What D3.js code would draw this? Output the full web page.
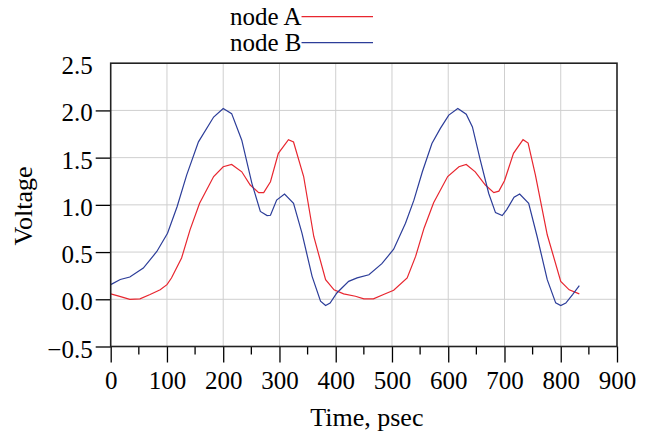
<!DOCTYPE html>
<meta charset="utf-8">
<style>
 body { margin: 0; background: #fff; }
 text {
   font-family: "Liberation Serif", "Times New Roman", serif;
   fill: #000;
 }
 .grid line {
   stroke: #cfcfcf;
   stroke-width: 1px;
 }
 .series {
   fill: none;
   stroke-width: 1.2px;
 }
</style>
<svg width="649" height="432"></svg>
<script src="https://d3js.org/d3.v7.min.js"></script>
<script>

 // time in psec, voltage in volts
 var timeA = [0, 16, 34, 52, 70, 88, 100, 108, 126, 141, 158, 183, 200, 215, 233, 248, 263, 272, 284, 298, 316, 325, 343, 361, 382, 397, 414, 435, 450, 467, 485, 503, 527, 542, 557, 574, 599, 619, 632, 648, 666, 681, 690, 700, 716, 733, 742, 755, 776, 800, 815, 833];
 var voltA = [0.057, 0.03, 0.0, 0.005, 0.05, 0.10, 0.155, 0.225, 0.437, 0.735, 1.017, 1.30, 1.403, 1.428, 1.35, 1.21, 1.13, 1.13, 1.245, 1.545, 1.69, 1.665, 1.30, 0.665, 0.208, 0.10, 0.057, 0.032, 0.004, 0.004, 0.05, 0.095, 0.226, 0.454, 0.753, 1.023, 1.30, 1.403, 1.428, 1.35, 1.21, 1.13, 1.145, 1.255, 1.545, 1.69, 1.655, 1.315, 0.683, 0.19, 0.10, 0.057];

 var timeB = [0, 17, 34, 58, 82, 101, 118, 135, 156, 183, 200, 215, 233, 251, 266, 278, 284, 295, 309, 325, 340, 358, 373, 382, 390, 402, 423, 438, 459, 482, 503, 524, 539, 554, 571, 586, 601, 617, 632, 643, 657, 672, 684, 696, 704, 717, 727, 743, 758, 776, 791, 800, 809, 821, 833];
 var voltB = [0.155, 0.21, 0.236, 0.33, 0.506, 0.70, 0.98, 1.315, 1.667, 1.93, 2.02, 1.966, 1.685, 1.228, 0.93, 0.886, 0.89, 1.05, 1.115, 1.017, 0.70, 0.243, -0.02, -0.066, -0.04, 0.067, 0.19, 0.226, 0.26, 0.377, 0.53, 0.806, 1.05, 1.35, 1.65, 1.81, 1.95, 2.02, 1.96, 1.825, 1.474, 1.12, 0.918, 0.886, 0.95, 1.08, 1.115, 1.017, 0.665, 0.208, -0.038, -0.066, -0.04, 0.05, 0.145];

 var seriesNames = ["node A", "node B"];
 var seriesColors = ["#e8262f", "#2c3d99"];
 var xTicks = [0, 100, 200, 300, 400, 500, 600, 700, 800, 900];
 var xMinorTicks = [50, 150, 250, 350, 450, 550, 650, 750, 850];
 var yTicks = [-0.5, 0, 0.5, 1.0, 1.5, 2.0, 2.5];

 var svg = d3.select("svg");

 var plotL = 110.7, plotR = 617, plotT = 63.2, plotB = 346.5;

 var x = d3.scaleLinear().domain([0, 900]).range([plotL, plotR]);
 var y = d3.scaleLinear().domain([-0.5, 2.5]).range([plotB, plotT]);

 // grid
 var grid = svg.append("g").attr("class", "grid");
 grid.selectAll("line.v")
     .data(xTicks.slice(1, -1))
     .enter().append("line")
     .attr("class", "v")
     .attr("x1", function(d) { return x(d); })
     .attr("x2", function(d) { return x(d); })
     .attr("y1", plotT)
     .attr("y2", plotB);
 grid.selectAll("line.h")
     .data(yTicks.slice(1, -1))
     .enter().append("line")
     .attr("class", "h")
     .attr("x1", plotL)
     .attr("x2", plotR)
     .attr("y1", function(d) { return y(d); })
     .attr("y2", function(d) { return y(d); });

 // series
 var line = d3.line()
              .x(function(d) { return x(d[0]); })
              .y(function(d) { return y(d[1]); });

 var series = [d3.zip(timeA, voltA), d3.zip(timeB, voltB)];

 svg.append("g")
    .selectAll("path")
    .data(series)
    .enter().append("path")
    .attr("class", "series")
    .attr("stroke", function(d, i) { return seriesColors[i]; })
    .attr("d", line);

 // axes
 var xAxis = svg.append("g")
                .attr("transform", "translate(0," + plotB + ")")
                .call(d3.axisBottom(x).tickValues(xTicks).tickSize(16).tickPadding(8).tickFormat(d3.format("d")));
 xAxis.selectAll(".tick line").attr("stroke", "#000").attr("stroke-width", 1.3);
 xAxis.selectAll(".tick text").attr("font-size", 25).attr("font-family", "Liberation Serif").attr("dy", "0.72em");
 xAxis.select(".domain").remove();

 svg.append("g")
    .selectAll("line")
    .data(xMinorTicks)
    .enter().append("line")
    .attr("x1", function(d) { return x(d); })
    .attr("x2", function(d) { return x(d); })
    .attr("y1", plotB)
    .attr("y2", plotB + 8)
    .attr("stroke", "#000")
    .attr("stroke-width", 1.3);

 var yAxis = svg.append("g")
                .attr("transform", "translate(" + plotL + ",0)")
                .call(d3.axisLeft(y).tickValues(yTicks).tickSize(15).tickPadding(3).tickFormat(d3.format(".1f")));
 yAxis.selectAll(".tick line").attr("stroke", "#000").attr("stroke-width", 1.3);
 yAxis.selectAll(".tick text").attr("font-size", 25).attr("font-family", "Liberation Serif").attr("dy", "0.42em");
 yAxis.select(".tick:last-of-type line").remove();
 yAxis.select(".domain").remove();

 // frame
 svg.append("rect")
    .attr("x", plotL)
    .attr("y", plotT)
    .attr("width", plotR - plotL)
    .attr("height", plotB - plotT)
    .attr("fill", "none")
    .attr("stroke", "#222")
    .attr("stroke-width", 1.6);

 // titles
 svg.append("text")
    .attr("x", (plotL + plotR) / 2 + 3)
    .attr("y", 426)
    .attr("text-anchor", "middle")
    .attr("font-size", 26)
    .text("Time, psec");

 svg.append("text")
    .attr("transform", "translate(32,206) rotate(-90)")
    .attr("text-anchor", "middle")
    .attr("font-size", 26)
    .text("Voltage");

 // legend
 var legend = svg.append("g")
                 .selectAll("g")
                 .data(seriesNames)
                 .enter().append("g")
                 .attr("transform", function(d, i) { return "translate(0," + (i * 26) + ")"; });

 legend.append("text")
       .attr("x", 230)
       .attr("y", 25)
       .attr("font-size", 25)
       .text(function(d) { return d; });

 legend.append("line")
       .attr("x1", function() { return 230 + this.parentNode.querySelector("text").getComputedTextLength(); })
       .attr("x2", 373)
       .attr("y1", 16.7)
       .attr("y2", 16.7)
       .attr("stroke", function(d, i) { return seriesColors[i]; })
       .attr("stroke-width", 1.2);
</script>
